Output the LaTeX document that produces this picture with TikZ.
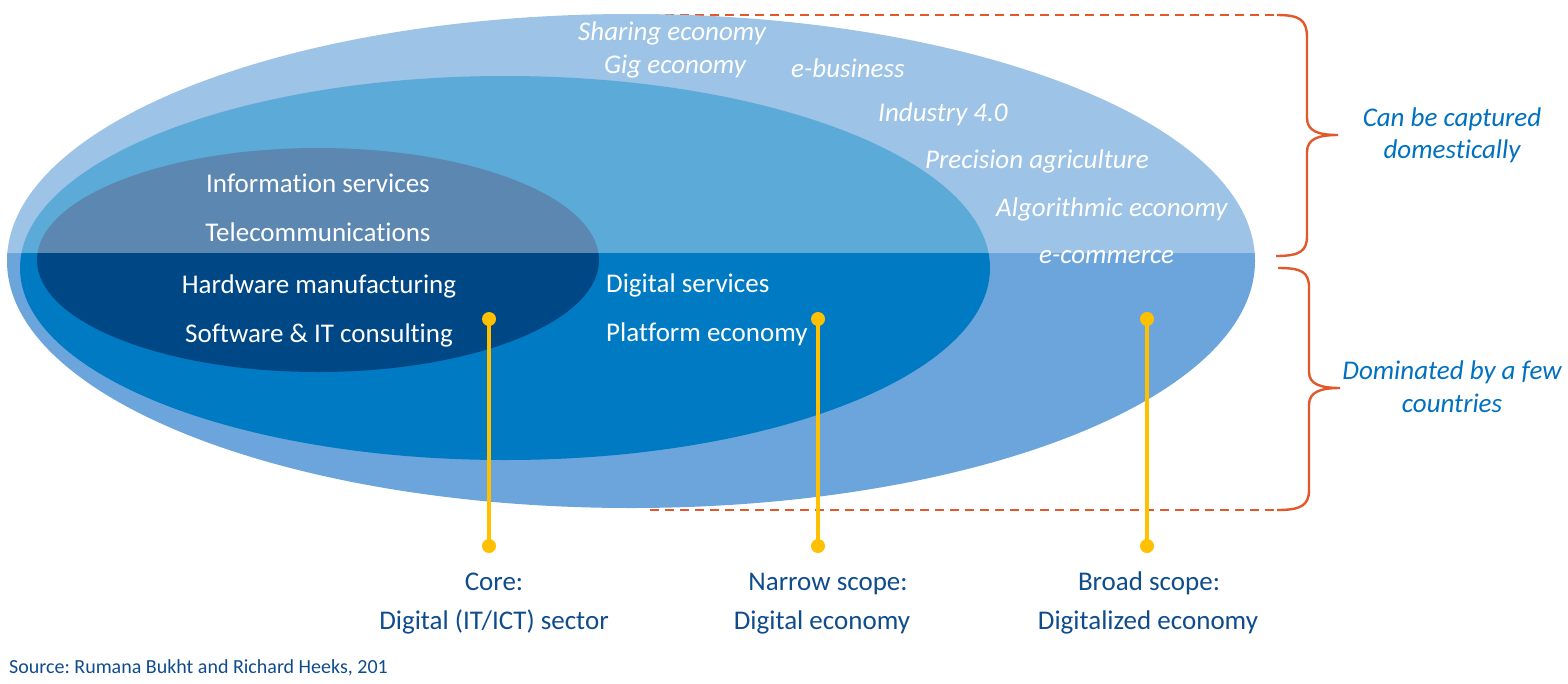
\documentclass[tikz,border=0pt]{standalone}
\usepackage{fontspec}
\setmainfont{Carlito}[Ligatures=NoCommon]
\frenchspacing
\definecolor{outerTop}{HTML}{9DC3E6}
\definecolor{outerBot}{HTML}{6CA5DB}
\definecolor{midTop}{HTML}{5BAAD8}
\definecolor{midBot}{HTML}{007AC2}
\definecolor{innTop}{HTML}{5B87B0}
\definecolor{innBot}{HTML}{004786}
\definecolor{braceC}{HTML}{E2582A}
\definecolor{dotC}{HTML}{FFC000}
\definecolor{labC}{HTML}{0F4C8C}
\definecolor{sideC}{HTML}{0070C0}
\tikzset{
  inner/.style={inner sep=0pt, anchor=base, text=white, font=\fontsize{27}{31}\selectfont},
  innerL/.style={inner sep=0pt, anchor=base west, text=white, font=\fontsize{27}{31}\selectfont},
  outerit/.style={inner sep=0pt, anchor=base west, text=white, font=\fontsize{27}{31}\selectfont\itshape},
  sidelab/.style={inner sep=0pt, anchor=base, text=sideC, font=\fontsize{27}{31}\selectfont\itshape},
  botlab/.style={inner sep=0pt, anchor=base, text=labC, font=\fontsize{27}{31}\selectfont},
  dotnode/.style={circle, fill=dotC, inner sep=0pt, minimum size=14pt},
  pin line/.style={draw=dotC, line width=3.2pt},
  brace line/.style={draw=braceC, line width=2.4pt},
  dash line/.style={draw=braceC, line width=2.4pt, dash pattern=on 9pt off 6pt},
}
\begin{document}
\begin{tikzpicture}[x=1pt,y=-1pt]
\useasboundingbox (0,0) rectangle (1568,683);

% dashed guide lines
\coordinate (tA) at (650,15);
\coordinate (tB) at (1277,15);
\coordinate (bA) at (650,510);
\coordinate (bB) at (1277,510);
\draw[dash line] (tA) -- (tB);
\draw[dash line] (bA) -- (bB);

% braces
\draw[brace line] (tB) .. controls (1300,15) and (1307,20) .. (1307,38) -- (1307,118)
  .. controls (1307,131) and (1318,135) .. (1338,135)
  .. controls (1318,135) and (1307,139) .. (1307,152) -- (1307,236)
  .. controls (1307,251) and (1300,256) .. (1276,256);
\draw[brace line] (1278,268) .. controls (1302,268) and (1309,272) .. (1309,288) -- (1309,372)
  .. controls (1309,384) and (1320,388) .. (1340,388)
  .. controls (1320,388) and (1309,392) .. (1309,405) -- (1309,490)
  .. controls (1309,506) and (1300,510) .. (bB);

% ellipses, top halves
\begin{scope}
\clip (0,0) rectangle (1568,253);
\fill[outerTop] (631,261) ellipse [x radius=624, y radius=247];
\fill[midTop] (505,268) ellipse [x radius=485, y radius=192];
\fill[innTop] (318,260) ellipse [x radius=281, y radius=112];
\end{scope}
% bottom halves
\begin{scope}
\clip (0,253) rectangle (1568,683);
\fill[outerBot] (631,261) ellipse [x radius=624, y radius=247];
\fill[midBot] (505,268) ellipse [x radius=485, y radius=192];
\fill[innBot] (318,260) ellipse [x radius=281, y radius=112];
\end{scope}

% outer ring labels
\node[outerit] (share) at (578,40) {Sharing economy};
\node[outerit] (gig) at (604,73) {Gig economy};
\node[outerit] (ebus) at (791,77) {e-business};
\node[outerit] (ind) at (878,121) {Industry 4.0};
\node[outerit] (prec) at (925,168) {Precision agriculture};
\node[outerit] (algo) at (996,216) {Algorithmic economy};
\node[outerit] (ecom) at (1039,263) {e-commerce};

% inner labels
\node[inner] (info) at (318,192) {Information services};
\node[inner] (tele) at (318,241) {Telecommunications};
\node[inner] (hard) at (319,293) {Hardware manufacturing};
\node[inner] (soft) at (319,342) {Software \& IT consulting};
\node[innerL] (digs) at (606,292) {Digital services};
\node[innerL] (plat) at (606,341) {Platform economy};

% pins
\node[dotnode] (d1t) at (489,319) {};
\node[dotnode] (d1b) at (489,546) {};
\node[dotnode] (d2t) at (818,319) {};
\node[dotnode] (d2b) at (818,546) {};
\node[dotnode] (d3t) at (1147,319) {};
\node[dotnode] (d3b) at (1147,546) {};
\draw[pin line] (d1t.center) -- (d1b.center);
\draw[pin line] (d2t.center) -- (d2b.center);
\draw[pin line] (d3t.center) -- (d3b.center);

% bottom labels
\node[botlab] (core1) at (494,590) {Core:};
\node[botlab] (core2) at (494,629) {Digital (IT/ICT) sector};
\node[botlab] (nar1) at (828,590) {Narrow scope:};
\node[botlab] (nar2) at (822,629) {Digital economy};
\node[botlab] (bro1) at (1149,590) {Broad scope:};
\node[botlab] (bro2) at (1148,629) {Digitalized economy};

% side labels
\node[sidelab] (cap1) at (1452,126) {Can be captured};
\node[sidelab] (cap2) at (1452,158) {domestically};
\node[sidelab] (dom1) at (1452,379) {Dominated by a few};
\node[sidelab] (dom2) at (1452,412) {countries};

% source
\node[inner sep=0pt, anchor=base west, text=labC, font=\fontsize{20}{24}\selectfont] (src) at (9,673) {Source: Rumana Bukht and Richard Heeks, 201};
\end{tikzpicture}
\end{document}
